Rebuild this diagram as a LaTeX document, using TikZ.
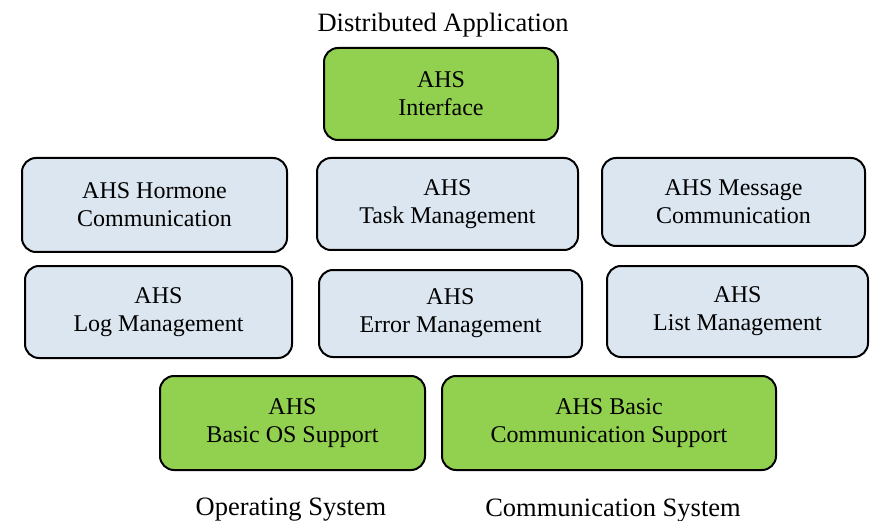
\documentclass[tikz,border=0pt]{standalone}
\usepackage{fontspec}
\setmainfont{Liberation Serif}
\usepackage{xcolor}
\definecolor{ahsgreen}{HTML}{92D050}
\definecolor{ahsblue}{HTML}{DCE6F0}
\tikzset{
    base_box/.style={rectangle, rounded corners=14pt, draw=black, line width=2pt, align=center, inner sep=0pt, font=\fontsize{24}{28}\selectfont},
    core/.style={base_box, fill=ahsgreen},
    service/.style={base_box, fill=ahsblue},
    layer_label/.style={font=\fontsize{26.5}{30}\selectfont, inner sep=0pt}
}

\begin{document}
\begin{tikzpicture}[x=1pt, y=-1pt]
\useasboundingbox (0,0) rectangle (872,521);

\node[layer_label] (app) at (443, 25) {Distributed Application};

\node[core, minimum width=234pt, minimum height=92pt] (iface) at (441, 94) {AHS\\Interface};

\node[service, minimum width=265pt, minimum height=94pt] (hormone) at (154.5, 205) {AHS Hormone\\Communication};
\node[service, minimum width=261pt, minimum height=92pt] (task)    at (447.5, 204) {AHS\\Task Management};
\node[service, minimum width=263pt, minimum height=88pt] (message) at (733.5, 202) {AHS Message\\Communication};

\node[service, minimum width=267pt, minimum height=92pt] (log)   at (158.5, 312)   {AHS\\Log Management};
\node[service, minimum width=263pt, minimum height=87pt] (error) at (450.5, 313.5) {AHS\\Error Management};
\node[service, minimum width=261pt, minimum height=91pt] (list)  at (737.5, 311.5) {AHS\\List Management};

\node[core, minimum width=265pt, minimum height=94pt] (os)   at (292.5, 423) {AHS\\Basic OS Support};
\node[core, minimum width=334pt, minimum height=94pt] (comm) at (609, 423)   {AHS Basic\\Communication Support};

\node[layer_label] (ossys)   at (291, 510) {Operating System};
\node[layer_label] (commsys) at (613, 511) {Communication System};

\end{tikzpicture}
\end{document}
